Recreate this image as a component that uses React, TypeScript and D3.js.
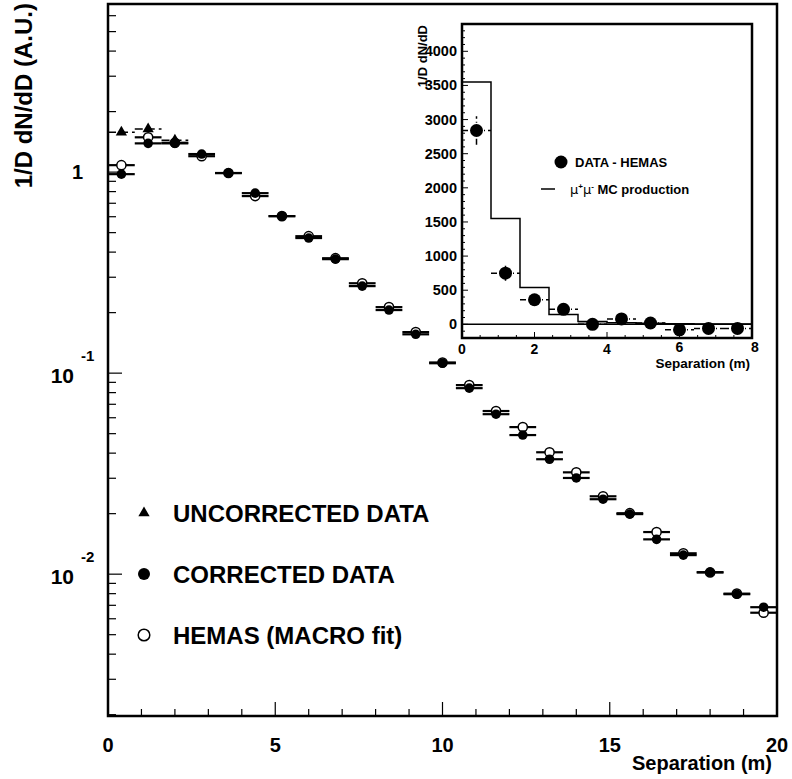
import * as d3 from "d3";
import React from "react";

// main plot: bins of 0.8 m
const binCenters = [
  0.4, 1.2, 2.0, 2.8, 3.6, 4.4, 5.2, 6.0, 6.8, 7.6, 8.4, 9.2, 10.0, 10.8, 11.6,
  12.4, 13.2, 14.0, 14.8, 15.6, 16.4, 17.2, 18.0, 18.8, 19.6,
];
const correctedData = [
  0.977, 1.39, 1.39, 1.23, 0.989, 0.786, 0.604, 0.47, 0.369, 0.271, 0.206,
  0.156, 0.112, 0.0842, 0.0625, 0.0492, 0.0373, 0.0301, 0.0236, 0.0199, 0.0149,
  0.01244, 0.01023, 0.00795, 0.00685,
];
const hemasFit = [
  1.083, 1.49, 1.4, 1.2, 0.99, 0.76, 0.604, 0.48, 0.373, 0.28, 0.213, 0.16,
  0.113, 0.0872, 0.0648, 0.0539, 0.0404, 0.0321, 0.0244, 0.0201, 0.0162, 0.0127,
  0.0102, 0.008, 0.00643,
];
const uncorrectedX = [0.4, 1.2, 2.0];
const uncorrectedData = [1.58, 1.64, 1.44];
const binHalf = 0.4;

const xTicksMajor = [0, 5, 10, 15, 20];
const legendItems = ["UNCORRECTED DATA", "CORRECTED DATA", "HEMAS (MACRO fit)"];

// inset
const insetX = [0.4, 1.2, 2.0, 2.8, 3.6, 4.4, 5.2, 6.0, 6.8, 7.6];
const insetData = [2840, 750, 360, 220, 0, 80, 20, -80, -60, -60];
const insetErr = [210, 110, 60, 50, 40, 40, 30, 30, 30, 30];
const mcEdges = [0, 0.8, 1.6, 2.4, 3.2, 4.0, 4.8, 5.6, 6.4, 7.2, 8.0];
const mcValues = [3550, 1550, 540, 145, 40, 25, 15, 10, 5, 5, 5];
const insetYTicks = [0, 500, 1000, 1500, 2000, 2500, 3000, 3500, 4000];
const insetXTicks = [0, 2, 4, 6, 8];

const FONT = "'Liberation Sans', Arial, Helvetica, sans-serif";

export default function App() {
  const W = 792;
  const H = 779;
  const m = { left: 108, right: 777, top: 4, bottom: 716 };

  const x = d3.scaleLinear().domain([0, 20]).range([m.left, m.right]);
  const y = d3.scaleLog().domain([0.00197, 6.86]).range([m.bottom, m.top]);

  // log ticks
  const yMinor: number[] = [];
  const yMajor: number[] = [];
  for (let d = -3; d <= 1; d++) {
    for (let k = 1; k <= 9; k++) {
      const v = k * Math.pow(10, d);
      if (v < y.domain()[0] || v > y.domain()[1]) continue;
      if (k === 1) yMajor.push(v);
      else yMinor.push(v);
    }
  }
  const xMinor = d3.range(0, 21).filter((v) => v % 5 !== 0);

  // inset
  const ib = { left: 462, right: 752, top: 24, bottom: 338 };
  const ix = d3.scaleLinear().domain([0, 8]).range([ib.left, ib.right]);
  const iy = d3.scaleLinear().domain([-200, 4400]).range([ib.bottom, ib.top]);
  const iyMinor = d3.range(-200, 4401, 100).filter((v) => v % 500 !== 0);
  const ixMinor = d3.range(0, 8.01, 0.5).filter((v) => v % 2 !== 0);

  const mcLine = d3
    .line<number>()
    .x((_, i) => ix(mcEdges[i]))
    .y((d) => iy(d))
    .curve(d3.curveStepAfter);

  const tri = d3.symbol().type(d3.symbolTriangle).size(55)();

  return (
    <svg
      width={W}
      height={H}
      style={{ position: "absolute", left: 0, top: 0, background: "#fff" }}
      fontFamily={FONT}
      fontWeight="bold"
    >
      <rect width={W} height={H} fill="#fff" />

      {/* main frame ticks */}
      {yMajor.map((v) => (
        <line key={"ym" + v} x1={m.left} x2={m.left + 14} y1={y(v)} y2={y(v)} stroke="#000" strokeWidth={1.2} />
      ))}
      {yMinor.map((v) => (
        <line key={"yn" + v} x1={m.left} x2={m.left + 8} y1={y(v)} y2={y(v)} stroke="#000" strokeWidth={1.2} />
      ))}
      {xTicksMajor.map((v) => (
        <line key={"xm" + v} x1={x(v)} x2={x(v)} y1={m.bottom} y2={m.bottom - 14} stroke="#000" strokeWidth={1.2} />
      ))}
      {xMinor.map((v) => (
        <line key={"xn" + v} x1={x(v)} x2={x(v)} y1={m.bottom} y2={m.bottom - 7} stroke="#000" strokeWidth={1.2} />
      ))}

      {/* y labels */}
      <text x={83} y={y(1) + 7} textAnchor="end" fontSize={20}>1</text>
      {[0.1, 0.01].map((v, i) => (
        <g key={"yl" + v}>
          <text x={74} y={y(v) + 10} textAnchor="end" fontSize={21}>10</text>
          <text x={81} y={y(v) - 12} fontSize={15}>{-(i + 1)}</text>
        </g>
      ))}
      <text transform="translate(32,3) rotate(-90)" textAnchor="end" fontSize={24}>
        1/D dN/dD (A.U.)
      </text>

      {/* x labels */}
      {xTicksMajor.map((v) => (
        <text key={"xl" + v} x={x(v)} y={752} textAnchor="middle" fontSize={20}>{v}</text>
      ))}
      <text x={772} y={770} textAnchor="end" fontSize={20}>Separation (m)</text>

      {/* hemas fit (open) */}
      {binCenters.map((c, i) => (
        <g key={"h" + i}>
          <line x1={x(c - binHalf)} x2={x(c + binHalf)} y1={y(hemasFit[i])} y2={y(hemasFit[i])} stroke="#000" strokeWidth={2.2} />
          <circle cx={x(c)} cy={y(hemasFit[i])} r={4.6} fill="#fff" stroke="#000" strokeWidth={1.5} />
        </g>
      ))}
      {/* corrected (filled) */}
      {binCenters.map((c, i) => (
        <g key={"c" + i}>
          <line x1={x(c - binHalf)} x2={x(c + binHalf)} y1={y(correctedData[i])} y2={y(correctedData[i])} stroke="#000" strokeWidth={2.2} />
          <circle cx={x(c)} cy={y(correctedData[i])} r={4.8} fill="#000" />
        </g>
      ))}
      {/* uncorrected (triangles) */}
      {uncorrectedX.map((c, i) => (
        <g key={"u" + i}>
          <line x1={x(c - binHalf)} x2={x(c + binHalf)} y1={y(uncorrectedData[i])} y2={y(uncorrectedData[i])} stroke="#000" strokeWidth={1.5} strokeDasharray="8 4" />
          <path d={tri!} transform={`translate(${x(c)},${y(uncorrectedData[i])})`} fill="#000" />
        </g>
      ))}

      {/* legend */}
      {legendItems.map((t, i) => {
        const ly = 513 + i * 61;
        return (
          <g key={"lg" + i}>
            {i === 0 && <path d={tri!} transform={`translate(144,${ly})`} fill="#000" />}
            {i === 1 && <circle cx={144} cy={ly} r={6} fill="#000" />}
            {i === 2 && <circle cx={144} cy={ly} r={5.8} fill="#fff" stroke="#000" strokeWidth={1.5} />}
            <text x={173} y={ly + 9} fontSize={24}>{t}</text>
          </g>
        );
      })}

      {/* main frame */}
      <rect x={m.left} y={m.top} width={m.right - m.left} height={m.bottom - m.top} fill="none" stroke="#000" strokeWidth={2.5} />

      {/* ---------- inset ---------- */}
      <rect x={ib.left} y={ib.top} width={ib.right - ib.left} height={ib.bottom - ib.top} fill="#fff" />
      <rect x={ix(3.2)} y={iy(40)} width={ix(4.0) - ix(3.2)} height={iy(0) - iy(40)} fill="#bbb" />
      <line x1={ib.left} x2={ib.right} y1={iy(0)} y2={iy(0)} stroke="#000" strokeWidth={1.5} />
      <path d={mcLine(mcValues)!} fill="none" stroke="#000" strokeWidth={1.5} />

      {insetX.map((c, i) => (
        <g key={"ip" + i}>
          <line x1={ix(c - binHalf)} x2={ix(c + binHalf)} y1={iy(insetData[i])} y2={iy(insetData[i])} stroke="#000" strokeWidth={1.5} strokeDasharray="6 3 1 3" />
          <line x1={ix(c)} x2={ix(c)} y1={iy(insetData[i] - insetErr[i])} y2={iy(insetData[i] + insetErr[i])} stroke="#000" strokeWidth={1.5} strokeDasharray="6 3 1 3" />
          <circle cx={ix(c)} cy={iy(insetData[i])} r={6.5} fill="#000" />
        </g>
      ))}

      {insetYTicks.map((v) => (
        <g key={"iyt" + v}>
          <line x1={ib.left} x2={ib.left + 6} y1={iy(v)} y2={iy(v)} stroke="#000" strokeWidth={1} />
          <text x={457} y={iy(v) + 5} textAnchor="end" fontSize={14.5}>{v}</text>
        </g>
      ))}
      {iyMinor.map((v) => (
        <line key={"iyn" + v} x1={ib.left} x2={ib.left + 3} y1={iy(v)} y2={iy(v)} stroke="#000" strokeWidth={1} />
      ))}
      {insetXTicks.map((v) => (
        <g key={"ixt" + v}>
          <line x1={ix(v)} x2={ix(v)} y1={ib.bottom} y2={ib.bottom - 6} stroke="#000" strokeWidth={1} />
          <text x={ix(v) + (v === 8 ? 3 : 0)} y={v >= 6 ? 352 : 354} textAnchor="middle" fontSize={14}>{v}</text>
        </g>
      ))}
      {ixMinor.map((v) => (
        <line key={"ixn" + v} x1={ix(v)} x2={ix(v)} y1={ib.bottom} y2={ib.bottom - 3} stroke="#000" strokeWidth={1} />
      ))}
      <text x={750} y={368} textAnchor="end" fontSize={13.5}>Separation (m)</text>
      <text transform={`translate(427,${ib.top + 1}) rotate(-90)`} textAnchor="end" fontSize={13}>
        1/D dN/dD
      </text>

      {/* inset legend */}
      <circle cx={561} cy={162} r={6.5} fill="#000" />
      <text x={575} y={167} fontSize={13}>DATA - HEMAS</text>
      <line x1={541} x2={555} y1={189} y2={189} stroke="#000" strokeWidth={1.5} />
      <text x={570} y={194} fontSize={13}>
        <tspan fontWeight="normal" fontFamily="'DejaVu Sans', sans-serif">μ</tspan>
        <tspan fontSize={8} dy={-5}>+</tspan>
        <tspan fontWeight="normal" fontFamily="'DejaVu Sans', sans-serif" dy={5}>μ</tspan>
        <tspan fontSize={8} dy={-5}>-</tspan>
        <tspan dy={5}> MC production</tspan>
      </text>

      <rect x={ib.left} y={ib.top} width={ib.right - ib.left} height={ib.bottom - ib.top} fill="none" stroke="#000" strokeWidth={2.5} />
    </svg>
  );
}
